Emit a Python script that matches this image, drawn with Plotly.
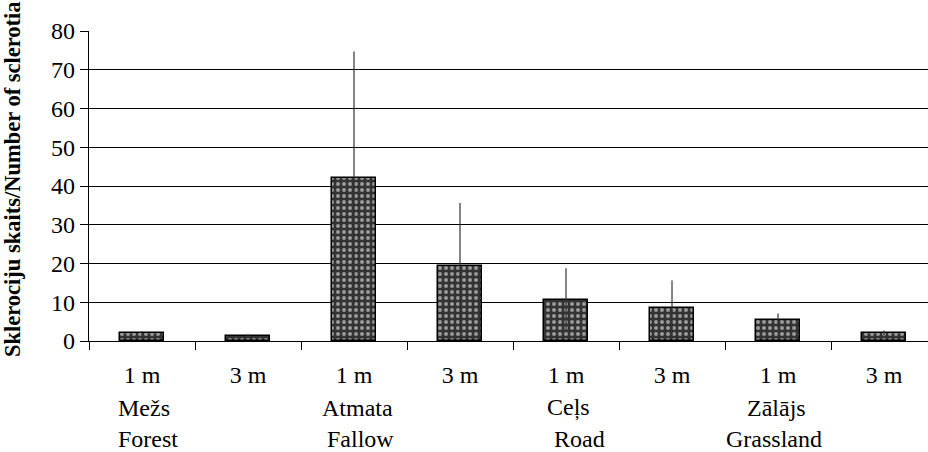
import plotly.graph_objects as go

distances = ["1 m", "3 m", "1 m", "3 m", "1 m", "3 m", "1 m", "3 m"]
values = [2.0, 1.3, 42.0, 19.3, 10.7, 8.4, 5.3, 2.1]
errors = [0.5, 0.4, 32.7, 16.3, 8.1, 7.2, 1.8, 0.6]
group_lv = ["Mežs", "Atmata", "Ceļs", "Zālājs"]
group_en = ["Forest", "Fallow", "Road", "Grassland"]
y_ticks = [0, 10, 20, 30, 40, 50, 60, 70, 80]
y_title = "Sklerociju skaits/Number of sclerotia"

FONT = "Liberation Serif"
x = list(range(len(values)))
lv_shift = [0.02, 0.03, 0.02, -0.01]
en_shift = [0.06, 0.06, 0.13, -0.04]

fig = go.Figure()
fig.add_trace(go.Bar(
    x=x, y=values, width=0.42,
    marker=dict(
        color="#333333",
        line=dict(color="black", width=1.5),
        pattern=dict(shape=".", fgcolor="#ffffff", bgcolor="#333333",
                     size=6, solidity=0.35, fillmode="overlay"),
    ),
    error_y=dict(type="data", array=errors, visible=True,
                 color="#333333", thickness=1.2, width=0),
    showlegend=False,
))

fig.update_layout(
    width=928, height=452,
    margin=dict(l=89, r=0, t=31, b=111),
    plot_bgcolor="white", paper_bgcolor="white",
    font=dict(family=FONT, size=24, color="black"),
    bargap=0,
)
fig.update_xaxes(
    range=[-0.5, 7.415],
    tickvals=x, ticktext=distances,
    ticks="", ticklabelstandoff=12,
    tickfont=dict(family=FONT, size=24),
    showgrid=False, zeroline=False,
    showline=True, linecolor="black", linewidth=1.3,
    minor=dict(tick0=0.5, dtick=1, ticks="outside", ticklen=8,
               tickcolor="black", tickwidth=1, showgrid=False),
)
fig.update_yaxes(
    range=[0, 80], tickvals=y_ticks,
    ticks="outside", ticklen=8, tickcolor="black",
    tickfont=dict(family=FONT, size=24),
    showgrid=True, gridcolor="black", gridwidth=1,
    zeroline=False,
    showline=True, linecolor="black", linewidth=1.3,
)

for i, (lv, en) in enumerate(zip(group_lv, group_en)):
    fig.add_annotation(x=2 * i + lv_shift[i], y=-0.216, xref="x", yref="paper",
                       text=lv, showarrow=False, yanchor="middle",
                       font=dict(family=FONT, size=24))
    fig.add_annotation(x=2 * i + en_shift[i], y=-0.316, xref="x", yref="paper",
                       text=en, showarrow=False, yanchor="middle",
                       font=dict(family=FONT, size=24))

# title centred near x=12 px, y=179 px of the page
fig.add_annotation(x=(12 - 89) / 839, y=(341 - 179) / 310, xref="paper", yref="paper",
                   text="<b>" + y_title + "</b>", textangle=-90,
                   showarrow=False, xanchor="center", yanchor="middle",
                   font=dict(family=FONT, size=22.5))

fig.write_html("out.html",
               config={"displayModeBar": False},
               post_script="document.body.style.margin='0';")
